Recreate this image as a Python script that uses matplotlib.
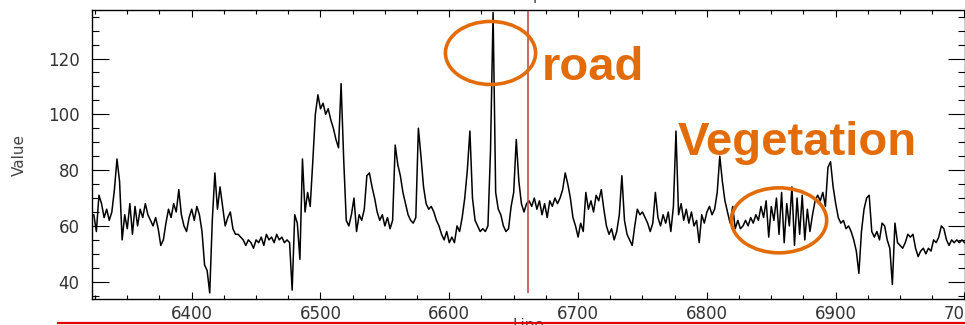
import matplotlib
matplotlib.use('Agg')
import matplotlib.pyplot as plt
from matplotlib.patches import Ellipse
from matplotlib.lines import Line2D
from matplotlib.ticker import MultipleLocator
import numpy as np

# ---------------- data ----------------
line_start = 6324
line_step = 2
values = [
    64, 58, 71, 68, 63, 66, 62, 65, 73, 84,
    76, 55, 64, 59, 68, 57, 67, 60, 66, 63,
    68, 64, 62, 60, 63, 59, 53, 55, 61, 66,
    63, 68, 65, 73, 64, 60, 58, 63, 66, 62,
    67, 64, 58, 46, 44, 36, 62, 79, 66, 74,
    67, 60, 63, 65, 59, 57, 57, 56, 55, 53,
    55, 54, 52, 55, 54, 56, 53, 57, 55, 56,
    54, 57, 55, 56, 54, 55, 54, 37, 64, 61,
    48, 84, 65, 72, 67, 83, 100, 107, 102, 104,
    100, 102, 98, 95, 91, 88, 111, 84, 62, 60,
    64, 70, 58, 64, 62, 66, 78, 79, 74, 70,
    65, 62, 64, 60, 63, 59, 62, 89, 82, 78,
    72, 68, 64, 62, 61, 63, 95, 85, 74, 68,
    66, 67, 65, 62, 60, 57, 55, 58, 54, 56,
    54, 60, 58, 63, 70, 80, 94, 70, 62, 60,
    58, 59, 58, 60, 87, 136.5, 72, 66, 64, 60,
    58, 59, 67, 72, 91, 76, 68, 65, 68, 69,
    67, 70, 66, 69, 64, 68, 63, 69, 67, 70,
    68, 70, 73, 79, 75, 70, 63, 60, 56, 61,
    58, 72, 66, 69, 65, 71, 69, 73, 66, 60,
    57, 59, 55, 58, 64, 78, 62, 57, 55, 53,
    60, 66, 64, 65, 63, 61, 58, 61, 72, 63,
    60, 64, 61, 65, 58, 67, 94, 64, 68, 62,
    66, 61, 65, 60, 62, 54, 64, 61, 65, 67,
    64, 66, 72, 85, 76, 69, 65, 61, 67, 59,
    62, 59, 60, 62, 60, 63, 61, 64, 62, 67,
    63, 69, 56, 67, 62, 70, 57, 72, 54, 68,
    60, 74, 53, 70, 57, 71, 55, 66, 58, 64,
    69, 71, 69, 72, 67, 81, 83, 74, 68, 63,
    61, 62, 59, 60, 58, 55, 51, 43, 58, 66,
    70, 71, 58, 56, 58, 55, 61, 60, 55, 52,
    39, 61, 54, 53, 52, 54, 57, 56, 57, 52,
    49, 51, 52, 50, 52, 51, 55, 54, 56, 60,
    59, 55, 53, 55, 54, 55, 54, 55, 54,
]
y_ticks = [40, 60, 80, 100, 120]
x_ticks = [6400, 6500, 6600, 6700, 6800, 6900, 7000]
marker_line = 6661          # red cursor line (Line)
road_ellipse = (6632, 122, 70, 22.6)        # centre x, centre y, width, height
veg_ellipse = (6856, 62, 74, 23.3)
orange = '#E36C0A'

# ---------------- figure ----------------
W, H = 965, 325
fig = plt.figure(figsize=(W / 100, H / 100), dpi=100)
ax_left, ax_right, ax_top, ax_bottom = 92, 964.5, 10, 299.3
ax = fig.add_axes([ax_left / W, 1 - ax_bottom / H,
                   (ax_right - ax_left) / W, (ax_bottom - ax_top) / H])

x = line_start + line_step * np.arange(len(values))
ax.plot(x, values, color='black', lw=1.1, zorder=3)

ax.set_xlim(6322.6, 7000)
ax.set_ylim(33.7, 137.4)

ax.set_xticks(x_ticks)
ax.set_yticks(y_ticks)
ax.xaxis.set_minor_locator(MultipleLocator(25))
ax.yaxis.set_minor_locator(MultipleLocator(5))

tick_col = '#333333'
ax.tick_params(axis='x', which='major', direction='in', length=5, width=0.8,
               top=True, bottom=True, labelsize=12, labelcolor=tick_col, pad=4)
ax.tick_params(axis='x', which='minor', direction='in', length=3, width=0.8,
               top=True, bottom=True)
ax.tick_params(axis='y', which='major', direction='in', length=12, width=0.8,
               left=True, right=True, labelsize=12, labelcolor=tick_col, pad=9)
ax.tick_params(axis='y', which='minor', direction='in', length=5, width=0.8,
               left=True, right=True)
for sp in ax.spines.values():
    sp.set_linewidth(1.0)

for lab in ax.get_xticklabels() + ax.get_yticklabels():
    lab.set_family('DejaVu Sans')

ax.set_ylabel('Value', fontsize=11, color='#444444')
ax.yaxis.set_label_coords((27 - ax_left) / (ax_right - ax_left), 0.5)
ax.set_xlabel('Line', fontsize=11, color='#444444')
ax.xaxis.set_label_coords(0.5, (ax_bottom - 318) / (ax_bottom - ax_top))
ax.set_title('Sample', fontsize=11, color='#444444', pad=7)

# red cursor line
ax.vlines(marker_line, 36, 137, color='#C0504D', lw=1.2, zorder=4)

# annotations
for (cx, cy, w, h) in (road_ellipse, veg_ellipse):
    ax.add_patch(Ellipse((cx, cy), w, h, fill=False, edgecolor=orange,
                         lw=2.6, zorder=5, clip_on=False))

fig.text(542 / W, 1 - 80 / H, 'road', color=orange, fontsize=34,
         fontweight='bold', family='Liberation Sans', va='baseline', ha='left')
fig.text(678 / W, 1 - 155 / H, 'Vegetation', color=orange, fontsize=34,
         fontweight='bold', family='Liberation Sans', va='baseline', ha='left')

# red underline at bottom of slide
fig.add_artist(Line2D([58 / W, 1.0], [1 - 323 / H, 1 - 323 / H],
                      transform=fig.transFigure, color='#E00000', lw=1.6,
                      zorder=10))

fig.savefig('out.png', dpi=100)
